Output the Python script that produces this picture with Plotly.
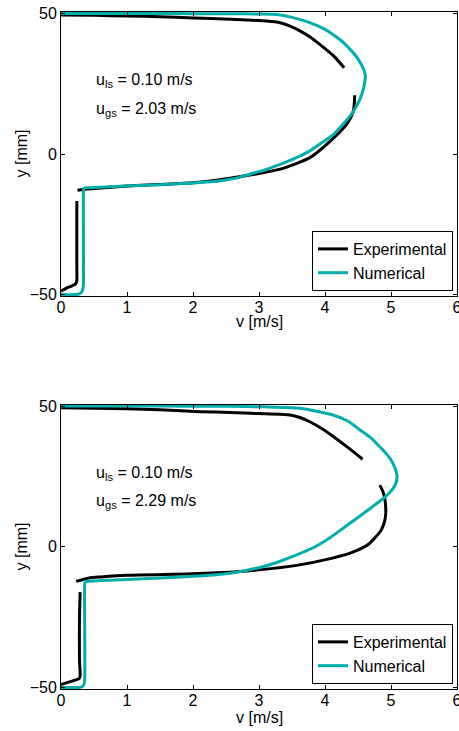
import plotly.graph_objects as go
from plotly.subplots import make_subplots

# ---------------- data ----------------
# Panel 1 (u_gs = 2.03 m/s)
exp1_v = [0.0, 0.5, 1.0, 1.5, 2.0, 2.56, 3.12, 3.32, 3.47, 3.62, 3.78, 3.92, 4.13, 4.29, None,
          4.45, 4.43, 4.33, 4.08, 3.77, 3.32, 2.56, 2.0, 1.0, 0.5, 0.25, None,
          0.24, 0.24, 0.24, 0.23, 0.21, 0.09, 0.0]
exp1_y = [49.4, 49.3, 49.1, 48.8, 48.4, 47.9, 47.3, 46.7, 45.5, 43.8, 41.5, 39.0, 34.9, 30.7, None,
          20.9, 15.3, 10.6, 4.6, -1.3, -5.4, -8.6, -10.2, -11.4, -12.3, -12.9, None,
          -16.7, -40.0, -45.0, -45.8, -46.4, -47.6, -48.8]

num1_v = [0.0, 0.5, 1.0, 1.5, 2.0, 2.56, 3.0, 3.27, 3.5, 3.77, 4.0, 4.12, 4.25, 4.38, 4.47, 4.55, 4.60, 4.61,
          4.58, 4.53, 4.47, 4.40, 4.27, 4.13, 3.95, 3.77, 3.55, 3.32, 3.1, 2.86, 2.7, 2.56, 2.4, 2.2, 2.0, 1.5,
          1.0, 0.6, 0.40, 0.36, 0.345, 0.34, 0.34, 0.34, 0.335, 0.32, 0.29, 0.24, 0.21, 0.0]
num1_y = [50.0, 50.0, 50.0, 49.95, 49.9, 49.85, 49.8, 49.6, 48.6, 46.7, 44.3, 42.5, 40.2, 37.2, 34.8, 31.8, 29.2, 27.2,
          23.0, 19.5, 16.8, 14.1, 10.5, 7.0, 4.0, 1.1, -1.5, -3.7, -5.6, -7.2, -8.3, -9.0, -9.6, -10.0, -10.3, -10.9,
          -11.4, -11.8, -12.0, -12.05, -12.3, -13.0, -30.0, -46.0, -47.6, -48.8, -49.6, -49.95, -50.0, -50.0]

# Panel 2 (u_gs = 2.29 m/s)
exp2_v = [0.0, 0.5, 1.0, 1.5, 2.12, 2.56, 3.0, 3.47, 3.62, 3.77, 3.95, 4.13, 4.35, 4.57, None,
          4.83, 4.88, 4.91, 4.92, 4.90, 4.85, 4.67, 4.42, 4.08, 3.57, 3.0, 2.56, 2.0,
          1.0, 0.6, 0.44, 0.23, None,
          0.29, 0.28, 0.28, 0.29, 0.28, 0.24, 0.14, 0.0]
exp2_y = [49.4, 49.2, 49.0, 48.7, 48.0, 47.7, 47.3, 46.8, 45.9, 44.4, 42.0, 39.1, 35.2, 31.1, None,
          21.9, 19.5, 16.5, 11.8, 8.8, 5.9, 1.1, -1.9, -4.2, -6.6, -8.2, -9.0, -9.6,
          -10.1, -10.7, -11.0, -12.3, None,
          -16.1, -25.0, -40.0, -45.6, -46.6, -47.2, -47.9, -48.9]

num2_v = [0.0, 1.0, 2.0, 2.56, 3.07, 3.62, 4.12, 4.35, 4.53, 4.70, 4.83, 4.93, 5.01, 5.06, 5.09,
          5.08, 5.04, 4.97, 4.89, 4.75, 4.58, 4.35, 4.08, 3.85, 3.57, 3.3, 3.07, 2.8, 2.56, 2.3, 2.0, 1.5, 1.0,
          0.6, 0.40, 0.37, 0.36, 0.36, 0.36, 0.355, 0.34, 0.31, 0.28, 0.26, 0.0]
num2_y = [50.0, 50.0, 49.95, 49.9, 49.7, 49.2, 46.8, 44.6, 41.5, 38.6, 35.5, 33.0, 30.5, 28.0, 25.5,
          23.0, 21.0, 19.0, 17.3, 14.8, 11.8, 7.9, 3.3, 0.0, -2.9, -5.3, -7.0, -8.4, -9.4, -10.0, -10.5, -11.1, -11.6,
          -12.0, -12.25, -12.3, -13.0, -30.0, -46.5, -48.2, -49.2, -49.8, -49.97, -50.0, -50.0]

annot1 = ["u<sub>ls</sub> = 0.10 m/s", "u<sub>gs</sub> = 2.03 m/s"]
annot2 = ["u<sub>ls</sub> = 0.10 m/s", "u<sub>gs</sub> = 2.29 m/s"]
x_ticks = [0, 1, 2, 3, 4, 5, 6]
y_ticks = [-50, 0, 50]

# ---------------- figure ----------------
BLACK = "#000000"
TEAL = "#00ADAD"
FONT = "Liberation Sans, Arial, sans-serif"
FS = 16

fig = make_subplots(rows=2, cols=1, vertical_spacing=0.1)

line_kw = dict(width=3, shape="spline", smoothing=0.6)
fig.add_trace(go.Scatter(x=exp1_v, y=exp1_y, mode="lines", name="Experimental",
                         line=dict(color=BLACK, **line_kw), legend="legend"), row=1, col=1)
fig.add_trace(go.Scatter(x=num1_v, y=num1_y, mode="lines", name="Numerical",
                         line=dict(color=TEAL, **line_kw), legend="legend"), row=1, col=1)
fig.add_trace(go.Scatter(x=exp2_v, y=exp2_y, mode="lines", name="Experimental",
                         line=dict(color=BLACK, **line_kw), legend="legend2"), row=2, col=1)
fig.add_trace(go.Scatter(x=num2_v, y=num2_y, mode="lines", name="Numerical",
                         line=dict(color=TEAL, **line_kw), legend="legend2"), row=2, col=1)

axis_common = dict(showline=True, linecolor=BLACK, linewidth=1, mirror="ticks",
                   ticks="inside", ticklen=4, tickcolor=BLACK, tickwidth=1,
                   showgrid=False, zeroline=False, automargin=False,
                   ticklabeloverflow="allow",
                   tickfont=dict(family=FONT, size=FS, color=BLACK))

fig.update_xaxes(range=[0, 6], tickvals=x_ticks, ticklabelstandoff=-3, **axis_common)
fig.update_yaxes(range=[-50.5, 50.5], tickvals=y_ticks, **axis_common)

fig.update_layout(
    yaxis=dict(domain=[0.5805, 1.0]),
    yaxis2=dict(domain=[0.0, 0.4201]),
)

annotations = []
for i, (lines, yr, xr) in enumerate([(annot1, "y", "x"), (annot2, "y2", "x2")]):
    for txt, yy in zip(lines, [26, 16]):
        annotations.append(dict(text=txt, x=0.5, y=yy, xref=xr, yref=yr,
                                xanchor="left", yanchor="middle", showarrow=False,
                                font=dict(family=FONT, size=FS, color=BLACK)))

# axis titles
for yc in [0.791, 0.2105]:
    annotations.append(dict(text="y [mm]", x=-0.101, y=yc, xref="paper", yref="paper",
                            textangle=-90, showarrow=False, xanchor="center", yanchor="middle",
                            font=dict(family=FONT, size=FS, color=BLACK)))
for yc in [0.5421, -0.0414]:
    annotations.append(dict(text="v [m/s]", x=0.5, y=yc, xref="paper", yref="paper",
                            showarrow=False, xanchor="center", yanchor="middle",
                            font=dict(family=FONT, size=FS, color=BLACK)))

legend_common = dict(xanchor="right", yanchor="bottom", bgcolor="white",
                     bordercolor=BLACK, borderwidth=1,
                     font=dict(family=FONT, size=FS, color=BLACK),
                     itemwidth=30, tracegroupgap=0)

fig.update_layout(
    width=459, height=731,
    margin=dict(l=61, r=2, t=12, b=42, autoexpand=False),
    paper_bgcolor="white", plot_bgcolor="white",
    showlegend=True,
    legend=dict(x=0.9899, y=0.5879, **legend_common),
    legend2=dict(x=0.9899, y=0.0074, **legend_common),
    annotations=annotations,
    font=dict(family=FONT, size=FS, color=BLACK),
)

fig.write_html("out.html", config={"displayModeBar": False},
               post_script="document.body.style.margin='0';")
